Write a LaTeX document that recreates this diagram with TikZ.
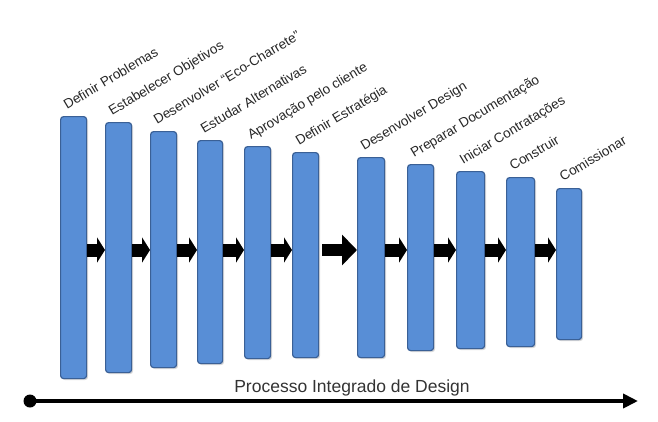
\documentclass[tikz,border=0pt]{standalone}
\usepackage{fontspec}
\setmainfont{Liberation Sans}
\usetikzlibrary{arrows.meta,shadows}
\definecolor{barblue}{RGB}{88,142,214}
\definecolor{barline}{RGB}{58,96,150}

\begin{document}
\begin{tikzpicture}[x=1pt,y=-1pt,
  bar/.style={draw=barline,fill=barblue,line width=1.2pt,rounded corners=3pt,anchor=north west,
    minimum width=26pt,inner sep=0pt,drop shadow={shadow xshift=1.5pt,shadow yshift=-1.5pt,opacity=.3}},
  lbl/.style={anchor=base west,rotate=31,inner sep=0pt,font=\fontsize{13.5}{15}\selectfont,text=black!85},
  flow/.style={line width=13pt,-{Triangle[length=8pt,width=25pt]}},
  bigflow/.style={line width=12pt,-{Triangle[length=15pt,width=30pt]}}]
\useasboundingbox (0,0) rectangle (658,421);
\node[bar,minimum height=262pt] (b1) at (60,116) {};
\node[bar,minimum height=250pt] (b2) at (105,122) {};
\node[bar,minimum height=236pt] (b3) at (150,131) {};
\node[bar,minimum height=223pt,minimum width=25pt] (b4) at (197,140) {};
\node[bar,minimum height=212pt] (b5) at (244,146) {};
\node[bar,minimum height=205pt] (b6) at (292,152) {};
\node[bar,minimum height=200pt,minimum width=27pt] (b7) at (357,157) {};
\node[bar,minimum height=186pt] (b8) at (407,164) {};
\node[bar,minimum height=177pt,minimum width=28pt] (b9) at (456,171) {};
\node[bar,minimum height=169pt,minimum width=28pt] (b10) at (506,177) {};
\node[bar,minimum height=151pt,minimum width=25pt] (b11) at (556,188) {};
\node[lbl] (l1) at ([shift={(7,-6)}]b1.north west) {Definir Problemas};
\node[lbl] (l2) at ([shift={(7,-6)}]b2.north west) {Estabelecer Objetivos};
\node[lbl] (l3) at ([shift={(7,-6)}]b3.north west) {Desenvolver “Eco-Charrete”};
\node[lbl] (l4) at ([shift={(7,-6)}]b4.north west) {Estudar Alternativas};
\node[lbl] (l5) at ([shift={(7,-6)}]b5.north west) {Aprovação pelo cliente};
\node[lbl] (l6) at ([shift={(7,-6)}]b6.north west) {Definir Estratégia};
\node[lbl] (l7) at ([shift={(7,-6)}]b7.north west) {Desenvolver Design};
\node[lbl] (l8) at ([shift={(7,-6)}]b8.north west) {Preparar Documentação};
\node[lbl] (l9) at ([shift={(7,-6)}]b9.north west) {Iniciar Contratações};
\node[lbl] (l10) at ([shift={(7,-6)}]b10.north west) {Construir};
\node[lbl] (l11) at ([shift={(7,-6)}]b11.north west) {Comissionar};
\coordinate (mid) at (0,250);
\foreach \i/\j in {1/2,2/3,3/4,4/5,5/6,7/8,8/9,9/10,10/11}
  \draw[flow] (b\i.east |- mid) -- (b\j.west |- mid);
\draw[bigflow] ([xshift=3pt]b6.east |- mid) -- (b7.west |- mid);
\node[anchor=base,font=\fontsize{17.5}{20}\selectfont,text=black!80] (title) at (352,392) {Processo Integrado de Design};
\coordinate (t0) at (30,401);
\coordinate (t1) at (638,401);
\draw[line width=4pt,-{Triangle[length=15pt,width=14pt]}] (t0) -- (t1);
\fill (t0) circle (6.5pt);
\end{tikzpicture}
\end{document}
